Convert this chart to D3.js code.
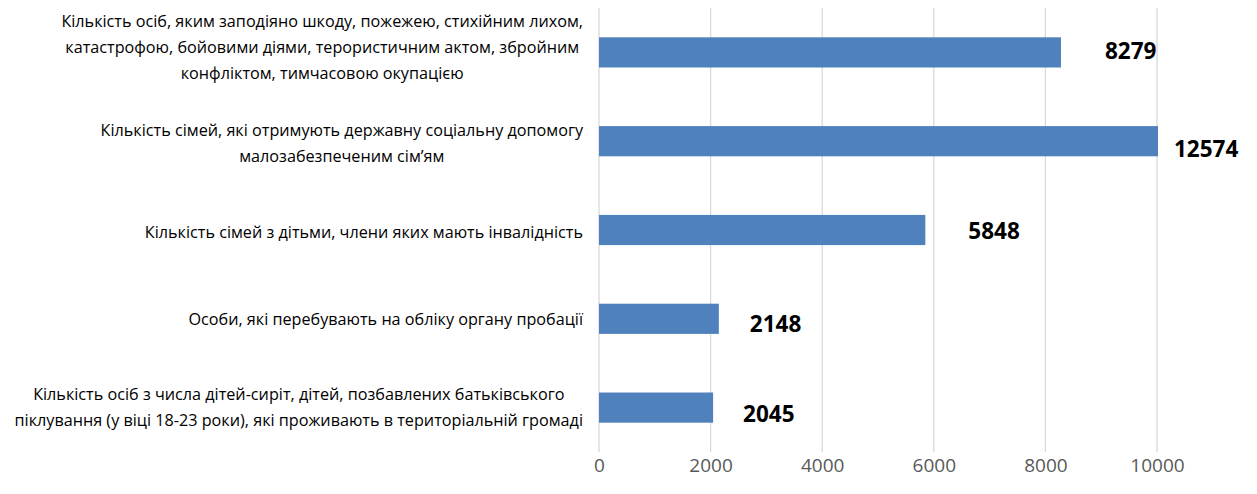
<!DOCTYPE html>
<html>
<head>
<meta charset="utf-8">
<script src="https://cdn.jsdelivr.net/npm/d3@7"></script>
<style>
  body { margin: 0; background: #fff; }
  text { font-family: "Open Sans", "Noto Sans", sans-serif; }
</style>
</head>
<body>
<div id="chart"></div>
<script>
// category labels, already split in lines like the original
var categories = [
  ["Кількість осіб, яким заподіяно шкоду, пожежею, стихійним лихом,",
   "катастрофою, бойовими діями, терористичним актом, збройним",
   "конфліктом, тимчасовою окупацією"],
  ["Кількість сімей, які отримують державну соціальну допомогу",
   "малозабезпеченим сім’ям"],
  ["Кількість сімей з дітьми, члени яких мають інвалідність"],
  ["Особи, які перебувають на обліку органу пробації"],
  ["Кількість осіб з числа дітей-сиріт, дітей, позбавлених батьківського",
   "піклування (у віці 18-23 роки), які проживають в територіальній громаді"]
]
var values = [8279, 12574, 5848, 2148, 2045]
var xTicks = [0, 2000, 4000, 6000, 8000, 10000]

var W = 1257, H = 494
var margin = {top: 8, right: 100, bottom: 42, left: 599}
var width = W - margin.left - margin.right,
    height = H - margin.top - margin.bottom

var svg = d3.select("#chart")
  .append("svg")
    .attr("width", W)
    .attr("height", H)

var g = svg.append("g")
    .attr("transform", "translate(" + margin.left + "," + margin.top + ")")

var x = d3.scaleLinear()
  .domain([0, 10000])
  .range([0, 558])

var y = d3.scaleBand()
  .domain(d3.range(values.length))
  .range([0, height])
  .paddingInner(0.66)
  .paddingOuter(0.33)

// gridlines
g.append("g")
  .selectAll("line")
  .data(xTicks)
  .enter()
  .append("line")
    .attr("x1", d => x(d))
    .attr("x2", d => x(d))
    .attr("y1", 0)
    .attr("y2", height)
    .attr("stroke", "#d9d9d9")
    .attr("stroke-width", 1.3)

// x axis labels
var xAxis = g.append("g")
  .attr("transform", "translate(0," + height + ")")
  .call(d3.axisBottom(x).tickValues(xTicks).tickFormat(d3.format("d")).tickSize(0).tickPadding(7))
xAxis.select(".domain").remove()
xAxis.selectAll("text")
  .attr("fill", "#595959")
  .style("font-size", "19px")
  .style("font-family", "'Open Sans', sans-serif")

// clip bars to plot area (axis max is 10000)
svg.append("clipPath").attr("id", "plotclip")
  .append("rect").attr("x", 0).attr("y", 0).attr("width", x(10000) + 1).attr("height", height)

g.append("g")
  .attr("clip-path", "url(#plotclip)")
  .selectAll("rect")
  .data(values)
  .enter()
  .append("rect")
    .attr("x", x(0))
    .attr("y", (d, i) => y(i))
    .attr("width", d => x(d) - x(0))
    .attr("height", y.bandwidth())
    .attr("fill", "#4f81bd")

// value labels, nudged like in the original
var labelNudge = [[44, -1], [17, 8], [43, 1], [31, 5], [30, 7]]
g.append("g")
  .selectAll("text")
  .data(values)
  .enter()
  .append("text")
    .attr("x", (d, i) => Math.min(x(d), x(10000)) + labelNudge[i][0])
    .attr("y", (d, i) => y(i) + y.bandwidth() / 2 + labelNudge[i][1])
    .attr("dy", "0.35em")
    .style("font-size", "22.5px")
    .style("font-weight", "bold")
    .style("font-family", "'Open Sans', sans-serif")
    .attr("fill", "#000")
    .text(d => d)

// category labels: block right aligned, lines centred in block
var lineH = 26
var labelShift = [-5, 2, 2, 1, 0]
var catG = svg.append("g")
categories.forEach(function(lines, i) {
  var cy = margin.top + y(i) + y.bandwidth() / 2 + labelShift[i]
  var grp = catG.append("g")
  var texts = lines.map(function(l, k) {
    return grp.append("text")
      .attr("y", cy + (k - (lines.length - 1) / 2) * lineH)
      .attr("dy", "0.35em")
      .attr("text-anchor", "middle")
      .style("font-size", "16.2px")
      .attr("fill", "#000")
      .text(l)
  })
  var maxW = d3.max(texts, t => t.node().getComputedTextLength())
  texts.forEach(t => t.attr("x", 583 - maxW / 2))
})
</script>
</body>
</html>
